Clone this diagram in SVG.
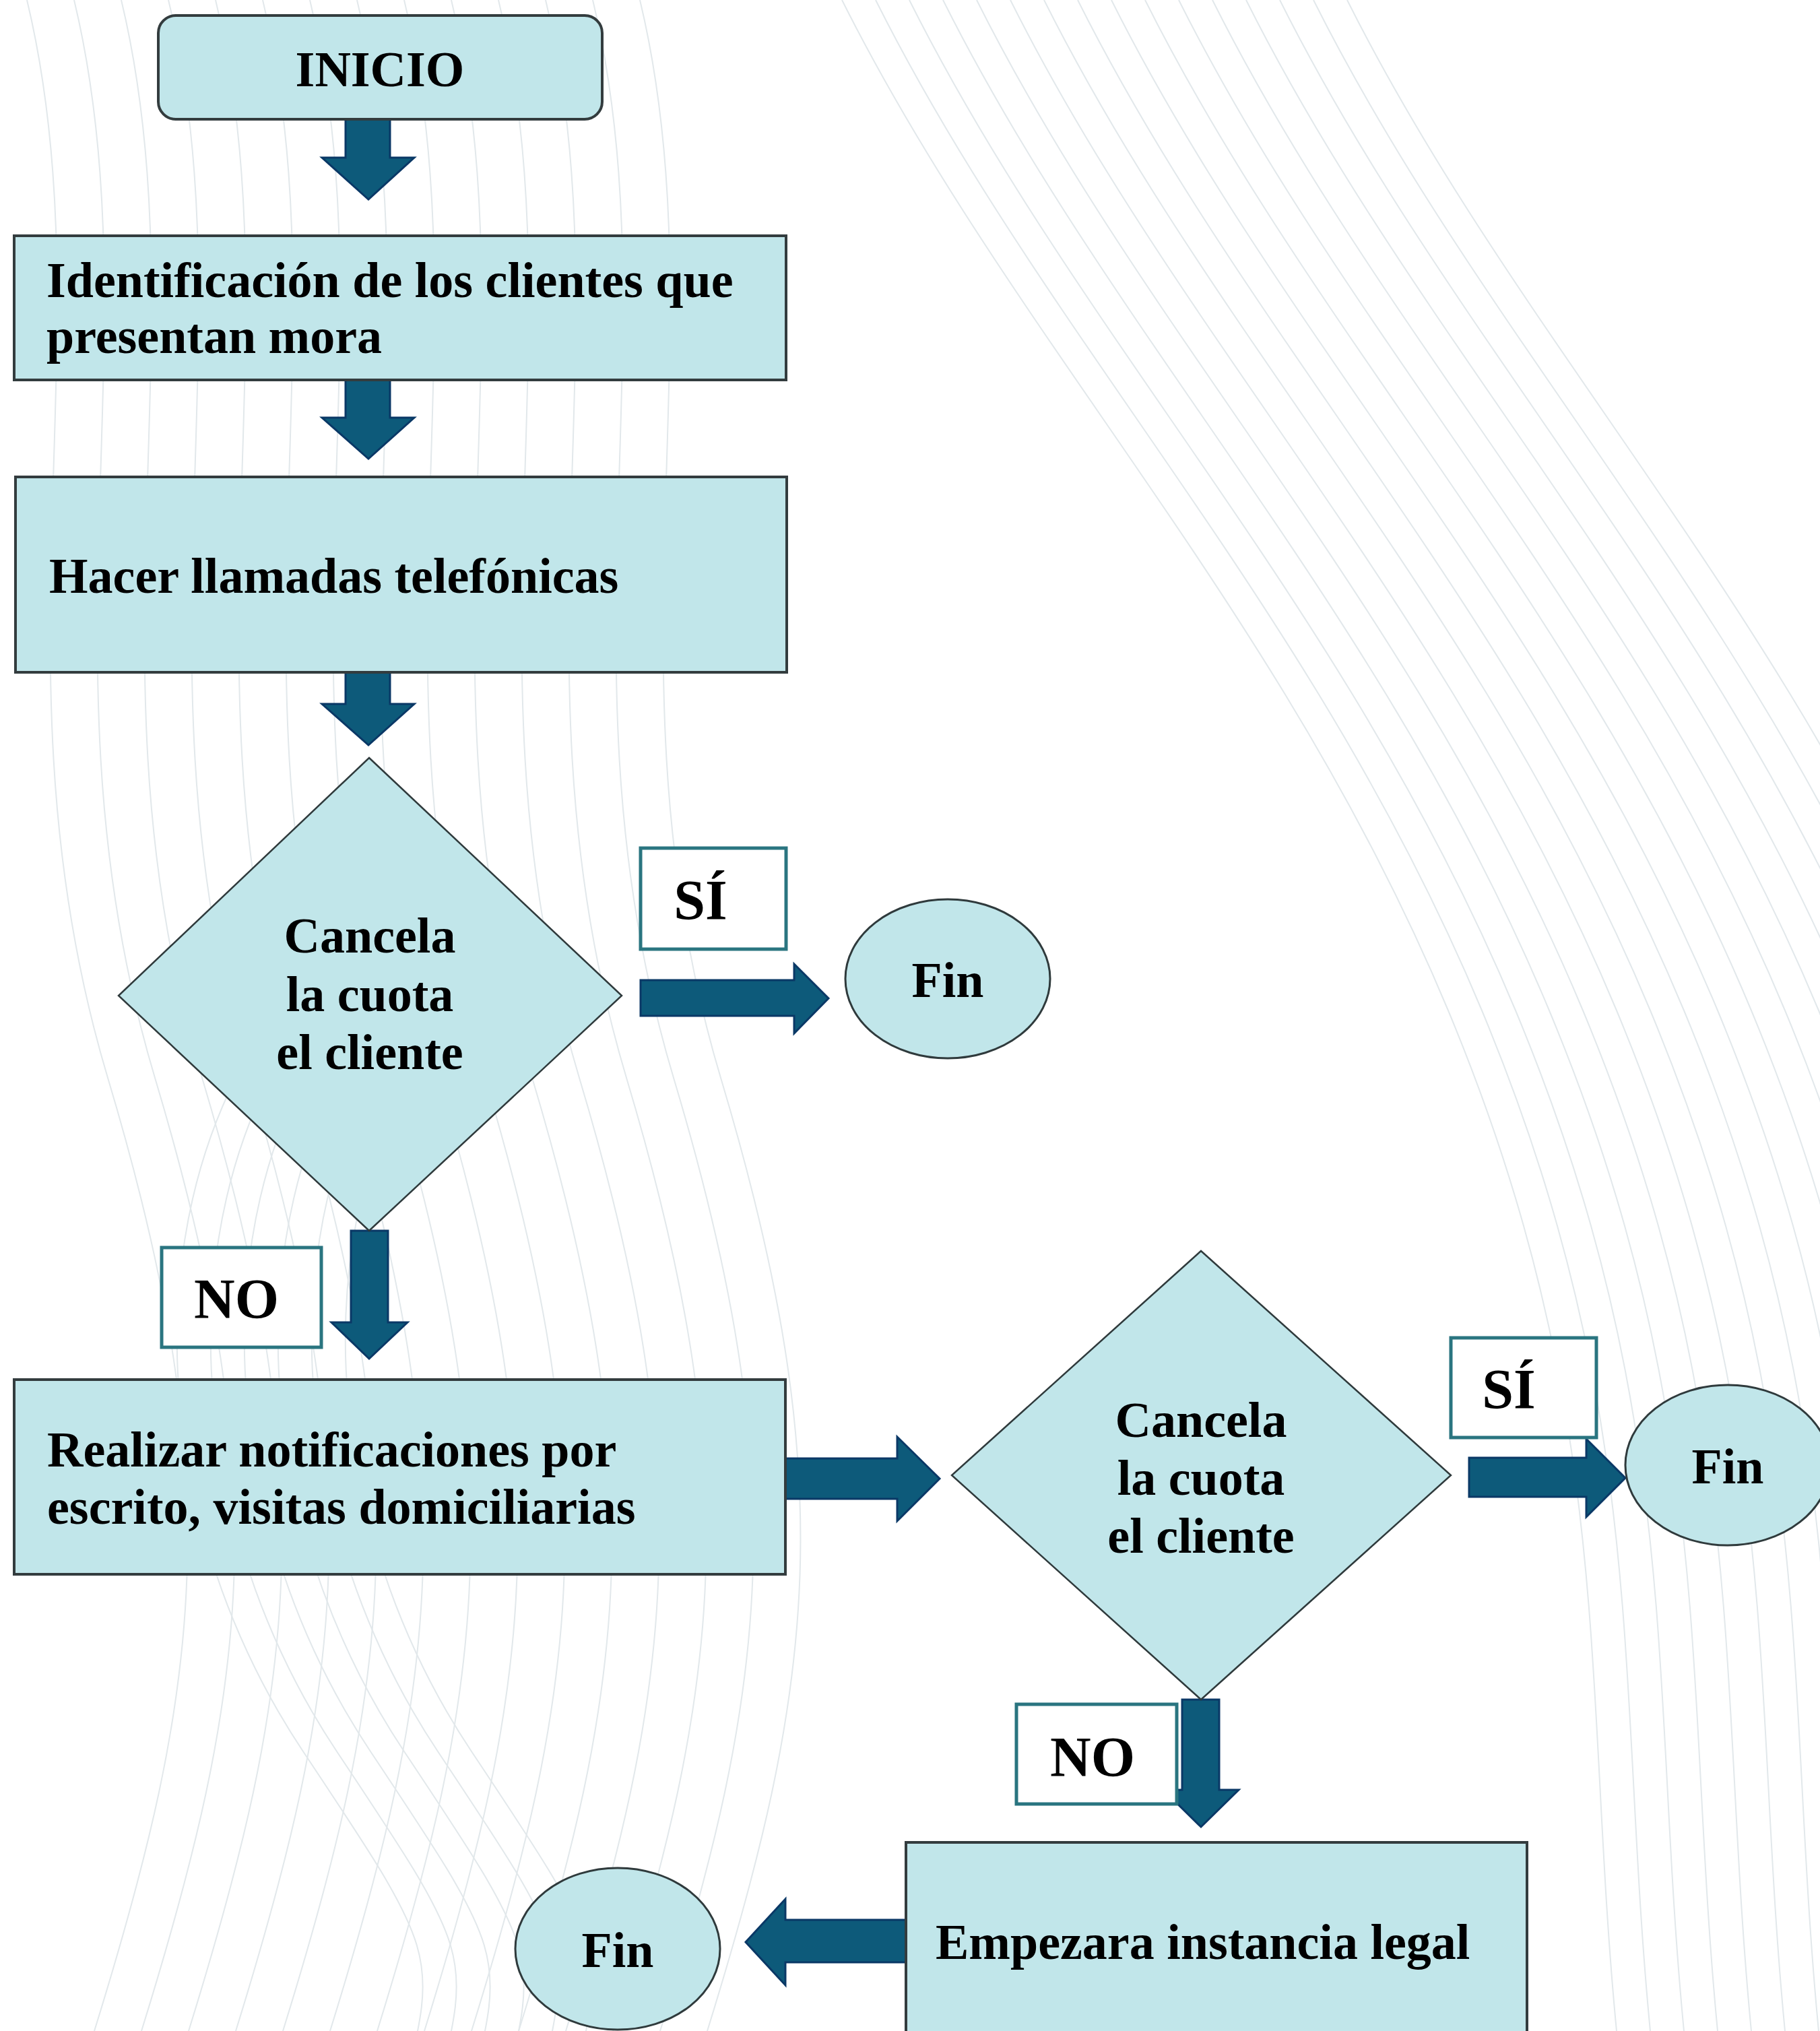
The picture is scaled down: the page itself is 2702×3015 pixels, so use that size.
<svg xmlns="http://www.w3.org/2000/svg" xmlns:xlink="http://www.w3.org/1999/xlink" width="2702" height="3015" viewBox="0 0 2702 3015">
<style>
.box{fill:#c1e6ea;stroke:#333c3e;stroke-width:4}
.dia{fill:#c1e6ea;stroke:#2f3a3c;stroke-width:2.5}
.ell{fill:#c1e6ea;stroke:#2f3a3c;stroke-width:3}
.lab{fill:#ffffff;stroke:#2a7580;stroke-width:5}
.arr{fill:#0d5a7a;stroke:#0a3866;stroke-width:3;stroke-linejoin:miter}
.t{font-family:"Liberation Serif","Times New Roman",serif;font-weight:bold;font-size:74px;fill:#000}
.l{font-size:84px}
.c{text-anchor:middle}
.bg{fill:none;stroke:#e2e8eb;stroke-width:2}
</style>
<defs>
<path id="wa" d="M0,0 C120,500 -60,1000 120,1600 S260,2500 100,3015"/>
<path id="wb" d="M0,0 C250,500 650,900 900,1500 S1100,2500 1150,3015"/>
<path id="wc" d="M0,0 C-150,300 -100,700 100,1000 S300,1300 250,1500"/>
</defs>
<rect x="0" y="0" width="2702" height="3015" fill="#ffffff"/>
<g id="background" class="bg">
<use xlink:href="#wa" x="40"/><use xlink:href="#wa" x="110"/><use xlink:href="#wa" x="180"/><use xlink:href="#wa" x="250"/><use xlink:href="#wa" x="320"/><use xlink:href="#wa" x="390"/><use xlink:href="#wa" x="460"/><use xlink:href="#wa" x="530"/><use xlink:href="#wa" x="600"/><use xlink:href="#wa" x="670"/><use xlink:href="#wa" x="740"/><use xlink:href="#wa" x="810"/><use xlink:href="#wa" x="880"/><use xlink:href="#wa" x="950"/>
<use xlink:href="#wb" x="1250"/><use xlink:href="#wb" x="1300"/><use xlink:href="#wb" x="1350"/><use xlink:href="#wb" x="1400"/><use xlink:href="#wb" x="1450"/><use xlink:href="#wb" x="1500"/><use xlink:href="#wb" x="1550"/><use xlink:href="#wb" x="1600"/><use xlink:href="#wb" x="1650"/><use xlink:href="#wb" x="1700"/><use xlink:href="#wb" x="1750"/><use xlink:href="#wb" x="1800"/><use xlink:href="#wb" x="1850"/><use xlink:href="#wb" x="1900"/><use xlink:href="#wb" x="1950"/><use xlink:href="#wb" x="2000"/>
<use xlink:href="#wc" x="350" y="1600"/><use xlink:href="#wc" x="400" y="1600"/><use xlink:href="#wc" x="450" y="1600"/><use xlink:href="#wc" x="500" y="1600"/><use xlink:href="#wc" x="550" y="1600"/><use xlink:href="#wc" x="600" y="1600"/>
</g>
<g id="connectors">
<polygon class="arr" points="513,177 579,177 579,234 615,234 547,296 478,234 513,234"/>
<polygon class="arr" points="513,563 579,563 579,620 615,620 547,681 478,620 513,620"/>
<polygon class="arr" points="513,998 579,998 579,1045 615,1045 547,1106 478,1045 513,1045"/>
<polygon class="arr" points="951,1455 1179,1455 1179,1431 1230,1482 1179,1534 1179,1508 951,1508"/>
<polygon class="arr" points="521,1827 576,1827 576,1963 605,1963 548,2017 492,1963 521,1963"/>
<polygon class="arr" points="1166,2165 1332,2165 1332,2133 1395,2195 1332,2258 1332,2225 1166,2225"/>
<polygon class="arr" points="2181,2164 2355,2164 2355,2136 2413,2194 2355,2252 2355,2222 2181,2222"/>
<polygon class="arr" points="1755,2523 1810,2523 1810,2657 1839,2657 1783,2712 1727,2657 1755,2657"/>
<polygon class="arr" points="1345,2850 1166,2850 1166,2819 1107,2883 1166,2947 1166,2913 1345,2913"/>
</g>
<g id="inicio">
<rect class="box" x="235" y="23" width="659" height="154" rx="26" ry="26"/>
<text class="t c" x="564" y="128">INICIO</text>
</g>
<g id="identificacion">
<rect class="box" x="21" y="350" width="1146" height="214"/>
<text class="t" x="69" y="441">Identificación de los clientes que</text>
<text class="t" x="69" y="524">presentan mora</text>
</g>
<g id="llamadas">
<rect class="box" x="23" y="708" width="1145" height="290"/>
<text class="t" x="73" y="880">Hacer llamadas telefónicas</text>
</g>
<g id="decision1">
<polygon class="dia" points="548,1125 923,1478 548,1827 176,1478"/>
<text class="t c" x="549" y="1414">Cancela</text>
<text class="t c" x="549" y="1501">la cuota</text>
<text class="t c" x="549" y="1587">el cliente</text>
</g>
<g id="si1">
<rect class="lab" x="951" y="1259" width="216" height="150"/>
<text class="t l c" x="1040" y="1365">SÍ</text>
</g>
<g id="fin1">
<ellipse class="ell" cx="1407" cy="1453" rx="152" ry="118"/>
<text class="t c" x="1407" y="1480">Fin</text>
</g>
<g id="no1">
<rect class="lab" x="240" y="1852" width="237" height="148"/>
<text class="t l c" x="351" y="1957">NO</text>
</g>
<g id="notificaciones">
<rect class="box" x="21" y="2048" width="1145" height="289"/>
<text class="t" x="70" y="2177">Realizar notificaciones por</text>
<text class="t" x="70" y="2262">escrito, visitas domiciliarias</text>
</g>
<g id="decision2">
<polygon class="dia" points="1783,1857 2154,2190 1783,2523 1413,2190"/>
<text class="t c" x="1783" y="2133">Cancela</text>
<text class="t c" x="1783" y="2219">la cuota</text>
<text class="t c" x="1783" y="2305">el cliente</text>
</g>
<g id="si2">
<rect class="lab" x="2154" y="1986" width="216" height="148"/>
<text class="t l c" x="2240" y="2091">SÍ</text>
</g>
<g id="fin2">
<ellipse class="ell" cx="2565" cy="2175" rx="152" ry="119"/>
<text class="t c" x="2565" y="2202">Fin</text>
</g>
<g id="no2">
<rect class="lab" x="1509" y="2530" width="238" height="148"/>
<text class="t l c" x="1622" y="2637">NO</text>
</g>
<g id="legal">
<rect class="box" x="1345" y="2735" width="922" height="320"/>
<text class="t" x="1389" y="2908">Empezara instancia legal</text>
</g>
<g id="fin3">
<ellipse class="ell" cx="917" cy="2893" rx="152" ry="120"/>
<text class="t c" x="917" y="2920">Fin</text>
</g>
</svg>
